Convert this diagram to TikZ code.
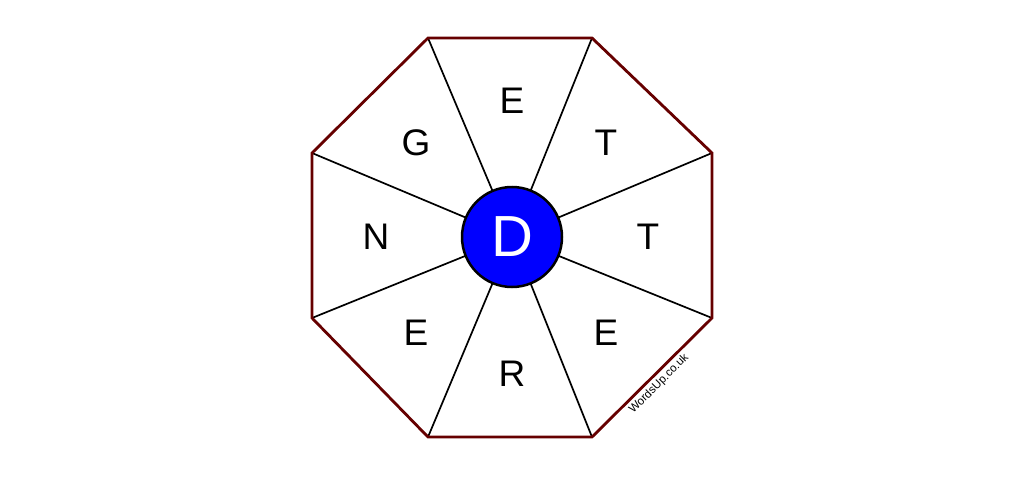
\documentclass[tikz,border=0pt]{standalone}
\usepackage{fontspec}
\setmainfont{Liberation Sans}
\definecolor{rim}{HTML}{660000}
\begin{document}
\begin{tikzpicture}[x=1pt,y=-1pt,
  spoke/.style={line width=1.7pt,black},
  letter/.style={font=\fontsize{37}{37}\selectfont},
  hub/.style={circle,draw=black,line width=2.5pt,fill=blue,minimum size=100pt,inner sep=0pt,text=white,font=\fontsize{58}{58}\selectfont}]
\useasboundingbox (0,0) rectangle (1024,476);
\coordinate (v1) at (428,38);
\coordinate (v2) at (592,38);
\coordinate (v3) at (712,153);
\coordinate (v4) at (712,318);
\coordinate (v5) at (592,437);
\coordinate (v6) at (428,437);
\coordinate (v7) at (312,318);
\coordinate (v8) at (312,153);
\coordinate (c) at (512,237);
\foreach \i in {1,...,8} \draw[spoke] (c) -- (v\i);
\draw[rim,line width=2.8pt,line join=miter] (v1) -- (v2) -- (v3) -- (v4) -- (v5) -- (v6) -- (v7) -- (v8) -- cycle;
\node[hub] (hubnode) at (c) {D};
\node[letter] (l1) at (512,101) {E};
\node[letter] (l2) at (606,143) {T};
\node[letter] (l3) at (648,237) {T};
\node[letter] (l4) at (606,333) {E};
\node[letter] (l5) at (512,374) {R};
\node[letter] (l6) at (416,333) {E};
\node[letter] (l7) at (376,237) {N};
\node[letter] (l8) at (416,143) {G};
\node[rotate=45,font=\fontsize{11.5}{11.5}\selectfont,inner sep=0pt] (wm) at (659,384) {WordsUp.co.uk};
\end{tikzpicture}
\end{document}
